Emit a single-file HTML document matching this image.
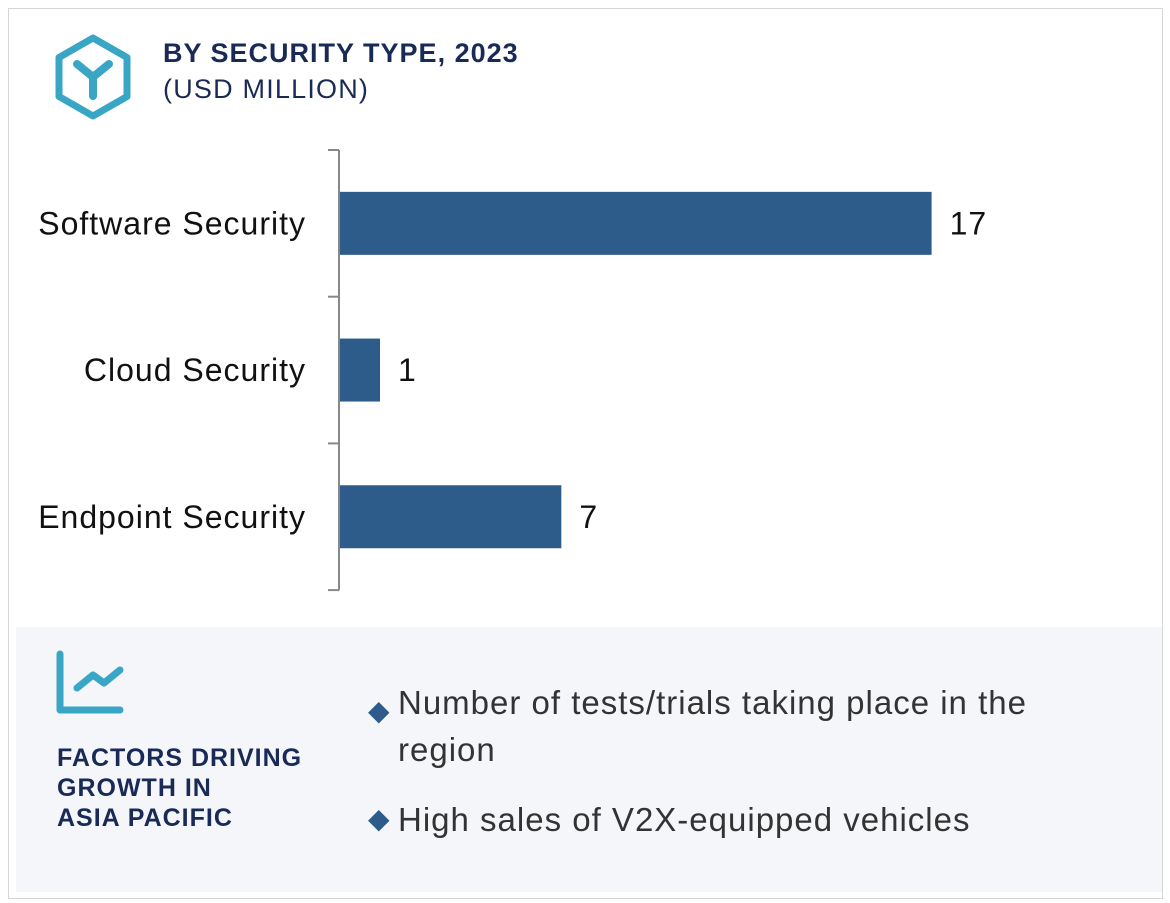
<!DOCTYPE html>
<html><head><meta charset="utf-8"><style>
body{margin:0;width:1170px;height:903px;background:#fff;font-family:"Liberation Sans",sans-serif;position:relative;overflow:hidden}
.card{position:absolute;left:8px;top:8px;width:1153px;height:889px;border:1px solid #d6d6d6}
.t{position:absolute;white-space:nowrap}
</style></head><body>
<div class="card"></div>
<svg style="position:absolute;left:0;top:0" width="200" height="140">
<polygon points="93,38 127,57.5 127,96.5 93,116 59,96.5 59,57.5" fill="none" stroke="#3aa6c5" stroke-width="7" stroke-linejoin="round"/>
<path d="M77,64 L93,77 L109,64 M93,77 L93,96" fill="none" stroke="#3aa6c5" stroke-width="8" stroke-linecap="round" stroke-linejoin="round"/>
</svg>
<div class="t" style="left:163px;top:38px;font-size:27px;font-weight:bold;color:#1a2a57;letter-spacing:1px">BY SECURITY TYPE, 2023</div>
<div class="t" style="left:163px;top:74px;font-size:27px;color:#1a2a57;letter-spacing:1.2px">(USD MILLION)</div>
<svg id="chart" style="position:absolute;left:0;top:0" width="1170" height="620"></svg>
<div style="position:absolute;left:16px;top:627px;width:1146px;height:265px;background:#f4f6fa"></div>
<svg style="position:absolute;left:0;top:630px" width="140" height="100">
<path d="M60,24 L60,80 L120,80" fill="none" stroke="#3aa6c5" stroke-width="7" stroke-linecap="round" stroke-linejoin="round"/>
<path d="M77,58 L93,45 L104,53 L120,40" fill="none" stroke="#3aa6c5" stroke-width="7" stroke-linecap="round" stroke-linejoin="round"/>
</svg>
<div class="t" style="left:57px;top:743px;font-size:25px;font-weight:bold;color:#1a2a57;line-height:30px;letter-spacing:1px">FACTORS DRIVING<br>GROWTH IN<br>ASIA PACIFIC</div>
<div style="position:absolute;left:364px;top:679px;font-size:33px;color:#333;line-height:47px;width:720px;letter-spacing:1px">
<span style="position:absolute;left:4px;top:8px;color:#2e5c8a;font-size:28px">◆</span>
<div style="margin-left:34px">Number of tests/trials taking place in the region</div></div>
<div style="position:absolute;left:364px;top:796px;font-size:33px;color:#333;line-height:47px;width:720px;letter-spacing:1px">
<span style="position:absolute;left:4px;top:-1px;color:#2e5c8a;font-size:28px">◆</span>
<div style="margin-left:34px">High sales of V2X-equipped vehicles</div></div>
<script>
const categories=["Software Security","Cloud Security","Endpoint Security"];
const values=[17,1.15,6.36];
const valueLabels=["17","1","7"];
const svg=document.getElementById('chart');
const NS='http://www.w3.org/2000/svg';
const x0=340,scale=34.8,top0=150,band=146.7,barH=63;
const xs=v=>x0+v*scale;
function mk(t,a){const e=document.createElementNS(NS,t);for(const k in a)e.setAttribute(k,a[k]);svg.appendChild(e);return e;}
const ax=mk('line',{x1:339,x2:339,y1:top0,y2:top0+band*categories.length,stroke:'#888','stroke-width':2});


for(let i=0;i<=categories.length;i++){
 const tk=mk('line',{x1:328,x2:339,y1:top0+band*i,y2:top0+band*i,stroke:'#888','stroke-width':2});
 
 
}
categories.forEach((c,i)=>{
 const cy=top0+band*i+band/2;
 const r=mk('rect',{x:x0,y:cy-barH/2,width:xs(values[i])-x0,height:barH,fill:'#2e5c8a'});
 
 
 const l=mk('text',{x:306,y:cy+11,'text-anchor':'end','font-size':32,'letter-spacing':1,fill:'#111'});l.textContent=c;
 
 
 const v=mk('text',{x:xs(values[i])+18,y:cy+11,'font-size':32,'letter-spacing':1,fill:'#111'});v.textContent=valueLabels[i];
 
 
});
</script>
</body></html>
